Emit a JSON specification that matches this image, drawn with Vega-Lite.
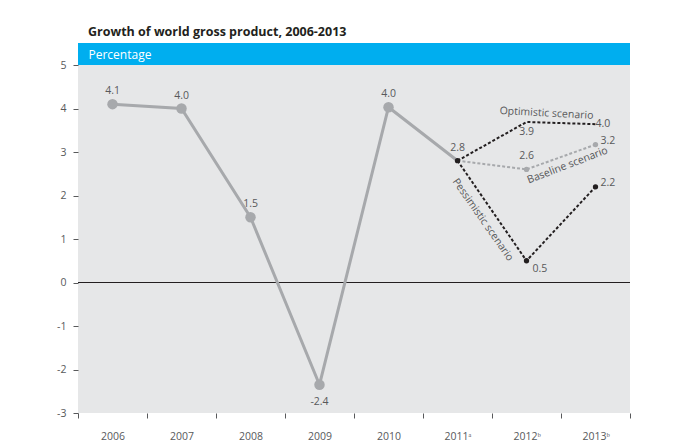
{
  "$schema": "https://vega.github.io/schema/vega-lite/v6.json",
  "autosize": "none",
  "width": 552,
  "height": 370,
  "padding": {"left": 78, "top": 43, "right": 43, "bottom": 34},
  "background": "white",
  "title": {
    "text": "Growth of world gross product, 2006-2013",
    "anchor": "start",
    "frame": "group",
    "dx": 10,
    "offset": 5,
    "font": "Open Sans",
    "fontSize": 12.5,
    "fontWeight": "bold",
    "color": "#231f20"
  },
  "config": {
    "view": {"fill": "#e6e7e8", "stroke": null},
    "text": {"font": "Open Sans", "fontSize": 10.5, "color": "#58595b"}
  },
  "data": {
    "values": [
      {"series": "Actual", "year": "2006", "value": 4.1, "label": "4.1"},
      {"series": "Actual", "year": "2007", "value": 4.0, "label": "4.0"},
      {"series": "Actual", "year": "2008", "value": 1.5, "label": "1.5"},
      {"series": "Actual", "year": "2009", "value": -2.35, "label": "-2.4"},
      {"series": "Actual", "year": "2010", "value": 4.03, "label": "4.0"},
      {"series": "Actual", "year": "2011ᵃ", "value": 2.8, "label": "2.8"},
      {"series": "Optimistic", "year": "2011ᵃ", "value": 2.8, "label": ""},
      {"series": "Optimistic", "year": "2012ᵇ", "value": 3.69, "label": "3.9"},
      {"series": "Optimistic", "year": "2013ᵇ", "value": 3.64, "label": "4.0"},
      {"series": "Baseline", "year": "2011ᵃ", "value": 2.8, "label": ""},
      {"series": "Baseline", "year": "2012ᵇ", "value": 2.6, "label": "2.6"},
      {"series": "Baseline", "year": "2013ᵇ", "value": 3.17, "label": "3.2"},
      {"series": "Pessimistic", "year": "2011ᵃ", "value": 2.8, "label": ""},
      {"series": "Pessimistic", "year": "2012ᵇ", "value": 0.5, "label": "0.5"},
      {"series": "Pessimistic", "year": "2013ᵇ", "value": 2.2, "label": "2.2"}
    ]
  },
  "encoding": {
    "x": {
      "field": "year",
      "type": "ordinal",
      "sort": null,
      "scale": {"domain": ["2006", "2007", "2008", "2009", "2010", "2011ᵃ", "2012ᵇ", "2013ᵇ"], "paddingInner": 0, "paddingOuter": 0},
      "axis": {
        "title": null,
        "labelAngle": 0,
        "tickBand": "extent",
        "tickSize": 5,
        "tickColor": "#58595b",
        "domain": false,
        "labelPadding": 13,
        "labelFont": "Open Sans",
        "labelFontSize": 10.5,
        "labelColor": "#58595b"
      }
    },
    "y": {
      "field": "value",
      "type": "quantitative",
      "scale": {"domain": [-3, 5.506], "nice": false, "zero": false},
      "axis": {
        "zindex": 1,
        "title": "Percentage",
        "titleAngle": 0,
        "titleX": 10,
        "titleY": 11,
        "titleAlign": "left",
        "titleBaseline": "middle",
        "titleColor": "white",
        "titleFont": "Open Sans",
        "titleFontSize": 12,
        "titleFontWeight": "normal",
        "values": [-3, -2, -1, 0, 1, 2, 3, 4, 5],
        "labelExpr": "replace(datum.label, '−', '-')",
        "grid": false,
        "domain": false,
        "tickSize": 5,
        "tickColor": "#58595b",
        "labelPadding": 7,
        "labelFont": "Open Sans",
        "labelFontSize": 10.5,
        "labelColor": "#58595b"
      }
    }
  },
  "layer": [
    {
      "transform": [{"filter": "datum.series === 'Actual' && datum.year === '2006'"}],
      "mark": {"type": "rect", "color": "#00aeef"},
      "encoding": {"x": null, "y": {"datum": 5}, "y2": {"datum": 5.506}}
    },
    {
      "transform": [{"filter": "datum.series === 'Actual' && datum.year === '2006'"}],
      "mark": {"type": "rule", "color": "#231f20", "strokeWidth": 1},
      "encoding": {"x": null, "y": {"datum": 0}}
    },
    {
      "transform": [{"filter": "datum.series === 'Actual'"}],
      "mark": {"type": "line", "color": "#a7a9ac", "strokeWidth": 3}
    },
    {
      "transform": [{"filter": "datum.series === 'Actual' && datum.year !== '2011ᵃ'"}],
      "mark": {"type": "point", "filled": true, "opacity": 1, "color": "#a7a9ac", "size": 110}
    },
    {
      "transform": [{"filter": "datum.series !== 'Actual'"}],
      "mark": {"type": "line", "strokeWidth": 2, "strokeDash": [3, 2]},
      "encoding": {
        "color": {
          "field": "series",
          "type": "nominal",
          "scale": {"domain": ["Baseline", "Optimistic", "Pessimistic"], "range": ["#a7a9ac", "#231f20", "#231f20"]},
          "legend": null
        }
      }
    },
    {
      "transform": [{"filter": "datum.series === 'Baseline' && datum.year !== '2011ᵃ'"}],
      "mark": {"type": "point", "filled": true, "opacity": 1, "color": "#a7a9ac", "size": 28}
    },
    {
      "transform": [{"filter": "datum.series === 'Pessimistic'"}],
      "mark": {"type": "point", "filled": true, "opacity": 1, "color": "#231f20", "size": 28}
    },
    {
      "transform": [{"filter": "(datum.series === 'Actual' && datum.year !== '2009') || (datum.series === 'Baseline' && datum.year === '2012ᵇ')"}],
      "mark": {"type": "text", "dy": -13},
      "encoding": {"text": {"field": "label"}}
    },
    {
      "transform": [{"filter": "datum.series === 'Actual' && datum.year === '2009'"}],
      "mark": {"type": "text", "dy": 17},
      "encoding": {"text": {"field": "label"}}
    },
    {
      "transform": [{"filter": "datum.series === 'Optimistic' && datum.year === '2012ᵇ'"}],
      "mark": {"type": "text", "dy": 10},
      "encoding": {"text": {"field": "label"}}
    },
    {
      "transform": [{"filter": "datum.series === 'Optimistic' && datum.year === '2013ᵇ'"}],
      "mark": {"type": "text", "align": "left", "dx": 0, "dy": 0},
      "encoding": {"text": {"field": "label"}}
    },
    {
      "transform": [{"filter": "(datum.series === 'Baseline' || datum.series === 'Pessimistic') && datum.year === '2013ᵇ'"}],
      "mark": {"type": "text", "align": "left", "dx": 5, "dy": -4},
      "encoding": {"text": {"field": "label"}}
    },
    {
      "transform": [{"filter": "datum.series === 'Pessimistic' && datum.year === '2012ᵇ'"}],
      "mark": {"type": "text", "align": "left", "dx": 6, "dy": 8},
      "encoding": {"text": {"field": "label"}}
    },
    {
      "transform": [{"filter": "datum.series === 'Optimistic' && datum.year === '2012ᵇ'"}],
      "mark": {"type": "text", "text": "Optimistic scenario", "dx": 20, "angle": 3},
      "encoding": {"y": {"datum": 3.91}}
    },
    {
      "transform": [{"filter": "datum.series === 'Baseline' && datum.year === '2012ᵇ'"}],
      "mark": {"type": "text", "text": "Baseline scenario", "dx": 44, "angle": -21},
      "encoding": {"y": {"datum": 2.33}}
    },
    {
      "transform": [{"filter": "datum.series === 'Pessimistic' && datum.year === '2011ᵃ'"}],
      "mark": {"type": "text", "text": "Pessimistic scenario", "dx": 44, "angle": 55},
      "encoding": {"y": {"datum": 2.27}}
    }
  ]
}
